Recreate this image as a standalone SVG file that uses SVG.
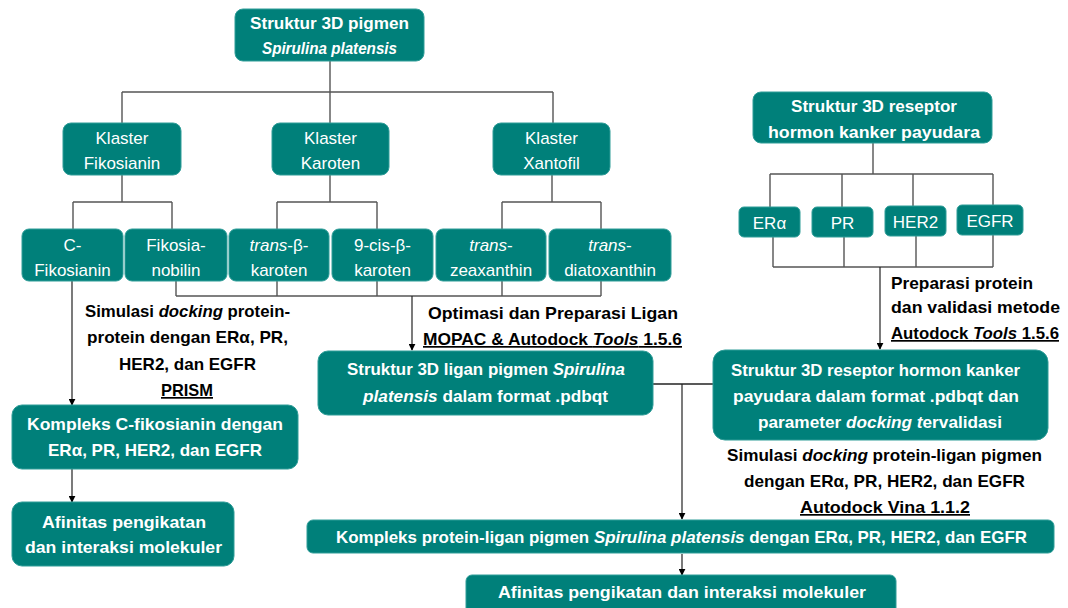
<svg xmlns="http://www.w3.org/2000/svg" width="1068" height="608" viewBox="0 0 1068 608">
<defs>
<marker id="arr" viewBox="0 0 10 10" refX="9" refY="5" markerWidth="7" markerHeight="7" orient="auto" markerUnits="userSpaceOnUse">
<path d="M0,0 L10,5 L0,10 z" fill="#000"/>
</marker>
</defs>
<style>
.box{fill:#00807A;stroke:#2f9d98;stroke-width:1}
.t{font-family:"Liberation Sans",Arial,sans-serif;fill:#fff;text-anchor:middle}
.r{font-size:17px}
.b{font-size:17px;font-weight:bold}
.lab{font-family:"Liberation Sans",Arial,sans-serif;font-size:17px;font-weight:bold;fill:#000}
.c{text-anchor:middle}
.u{text-decoration:underline}
.ln{fill:none;stroke:#555;stroke-width:1.4}
.ar{fill:none;stroke:#222;stroke-width:1.2;marker-end:url(#arr)}
</style>
<rect width="1068" height="608" fill="#fff"/>
<g id="connectors">
<path class="ln" d="M330,61 V92 M122,92 H553 M122,92 V123 M330,92 V123 M553,92 V123"/>
<path class="ln" d="M122,175 V202 M73,202 H172 M73,202 V229 M172,202 V229"/>
<path class="ln" d="M330,175 V202 M277,202 H377 M277,202 V229 M377,202 V229"/>
<path class="ln" d="M552,175 V202 M502,202 H601 M502,202 V229 M601,202 V229"/>
<path class="ln" d="M176,281 V296 M277,281 V296 M377,281 V296 M502,281 V296 M601,281 V296 M176,296 H601"/>
<path class="ar" d="M412,296 V350"/>
<path class="ar" d="M72,281 V405"/>
<path class="ar" d="M72,469 V502"/>
<path class="ln" d="M873,143 V174 M770,174 H993 M770,174 V207 M842,174 V207 M913,174 V206 M993,174 V205"/>
<path class="ln" d="M773,237 V267 M844,237 V267 M916,236 V267 M993,235 V267 M773,267 H993"/>
<path class="ar" d="M880,267 V349"/>
<path class="ln" d="M653,384 H713" style="stroke:#222"/>
<path class="ar" d="M682,384 V519"/>
<path class="ar" d="M682,554 V575"/>
</g>
<g id="n-top"><rect class="box" x="235" y="9" width="189" height="52" rx="8"/>
<text class="t b" x="329.5" y="29" textLength="159" lengthAdjust="spacingAndGlyphs">Struktur 3D pigmen</text>
<text class="t b" x="329.5" y="54" font-style="italic" textLength="135" lengthAdjust="spacingAndGlyphs">Spirulina platensis</text></g>
<g id="n-fiko"><rect class="box" x="63" y="123" width="118" height="52" rx="8"/>
<text class="t r" x="122" y="144">Klaster</text><text class="t r" x="122" y="169">Fikosianin</text></g>
<g id="n-karo"><rect class="box" x="272" y="123" width="117" height="52" rx="8"/>
<text class="t r" x="330.5" y="144">Klaster</text><text class="t r" x="330.5" y="169">Karoten</text></g>
<g id="n-xant"><rect class="box" x="493" y="123" width="117" height="52" rx="8"/>
<text class="t r" x="551.5" y="144">Klaster</text><text class="t r" x="551.5" y="169">Xantofil</text></g>
<g id="n-cfiko"><rect class="box" x="22" y="229" width="101" height="52" rx="7"/>
<text class="t r" x="72.5" y="251">C-</text><text class="t r" x="72.5" y="276">Fikosianin</text></g>
<g id="n-fikonob"><rect class="box" x="125" y="229" width="102" height="52" rx="7"/>
<text class="t r" x="176" y="251">Fikosia-</text><text class="t r" x="176" y="276">nobilin</text></g>
<g id="n-transb"><rect class="box" x="229" y="229" width="100" height="52" rx="7"/>
<text class="t r" x="279" y="251"><tspan font-style="italic">trans</tspan>-β-</text><text class="t r" x="279" y="276">karoten</text></g>
<g id="n-9cis"><rect class="box" x="332" y="229" width="101" height="52" rx="7"/>
<text class="t r" x="382.5" y="251">9-cis-β-</text><text class="t r" x="382.5" y="276">karoten</text></g>
<g id="n-zea"><rect class="box" x="436" y="229" width="110" height="52" rx="7"/>
<text class="t r" x="491" y="251"><tspan font-style="italic">trans</tspan>-</text><text class="t r" x="491" y="276">zeaxanthin</text></g>
<g id="n-diato"><rect class="box" x="549" y="229" width="122" height="52" rx="7"/>
<text class="t r" x="610" y="251"><tspan font-style="italic">trans</tspan>-</text><text class="t r" x="610" y="276">diatoxanthin</text></g>
<g id="n-reseptor"><rect class="box" x="753" y="92" width="239" height="51" rx="8"/>
<text class="t b" x="874" y="112" textLength="166" lengthAdjust="spacingAndGlyphs">Struktur 3D reseptor</text>
<text class="t b" x="874" y="138" textLength="212" lengthAdjust="spacingAndGlyphs">hormon kanker payudara</text></g>
<g id="n-era"><rect class="box" x="739" y="207" width="61" height="30" rx="5"/><text class="t r" x="769.5" y="229">ERα</text></g>
<g id="n-pr"><rect class="box" x="812" y="207" width="61" height="30" rx="5"/><text class="t r" x="842.5" y="229">PR</text></g>
<g id="n-her2"><rect class="box" x="885" y="206" width="61" height="30" rx="5"/><text class="t r" x="915.5" y="228">HER2</text></g>
<g id="n-egfr"><rect class="box" x="957" y="205" width="66" height="30" rx="5"/><text class="t r" x="990" y="227">EGFR</text></g>
<g id="n-ligan"><rect class="box" x="318" y="351" width="335" height="64" rx="10"/>
<text class="t b" x="486" y="375" textLength="278" lengthAdjust="spacingAndGlyphs">Struktur 3D ligan pigmen <tspan font-style="italic">Spirulina</tspan></text>
<text class="t b" x="485.5" y="402" textLength="245" lengthAdjust="spacingAndGlyphs"><tspan font-style="italic">platensis</tspan> dalam format .pdbqt</text></g>
<g id="n-resfmt"><rect class="box" x="713" y="350" width="335" height="90" rx="12"/>
<text class="t b" x="875.5" y="376" textLength="289" lengthAdjust="spacingAndGlyphs">Struktur 3D reseptor hormon kanker</text>
<text class="t b" x="876" y="402" textLength="286" lengthAdjust="spacingAndGlyphs">payudara dalam format .pdbqt dan</text>
<text class="t b" x="880" y="428" textLength="244" lengthAdjust="spacingAndGlyphs">parameter <tspan font-style="italic">docking t</tspan>ervalidasi</text></g>
<g id="n-kompc"><rect class="box" x="12" y="405" width="286" height="64" rx="10"/>
<text class="t b" x="155" y="430" textLength="256" lengthAdjust="spacingAndGlyphs">Kompleks C-fikosianin dengan</text>
<text class="t b" x="155" y="456" textLength="214" lengthAdjust="spacingAndGlyphs">ERα, PR, HER2, dan EGFR</text></g>
<g id="n-afin1"><rect class="box" x="12" y="502" width="222" height="64" rx="10"/>
<text class="t b" x="124" y="528" textLength="164" lengthAdjust="spacingAndGlyphs">Afinitas pengikatan</text>
<text class="t b" x="123.5" y="553" textLength="197" lengthAdjust="spacingAndGlyphs">dan interaksi molekuler</text></g>
<g id="n-kompl"><rect class="box" x="307" y="520" width="747" height="33" rx="6"/>
<text class="t b" x="681.5" y="543" textLength="691" lengthAdjust="spacingAndGlyphs">Kompleks protein-ligan pigmen <tspan font-style="italic">Spirulina platensis</tspan> dengan ERα, PR, HER2, dan EGFR</text></g>
<g id="n-afin2"><rect class="box" x="466" y="575" width="430" height="40" rx="6"/>
<text class="t b" x="682" y="598" textLength="368" lengthAdjust="spacingAndGlyphs">Afinitas pengikatan dan interaksi molekuler</text></g>
<g id="labels">
<text class="lab c" x="187.5" y="317" textLength="205" lengthAdjust="spacingAndGlyphs">Simulasi <tspan font-style="italic">docking</tspan> protein-</text>
<text class="lab c" x="187.5" y="343" textLength="201" lengthAdjust="spacingAndGlyphs">protein dengan ERα, PR,</text>
<text class="lab c" x="187.5" y="370" textLength="137" lengthAdjust="spacingAndGlyphs">HER2, dan EGFR</text>
<text class="lab c u" x="187" y="396" textLength="52" lengthAdjust="spacingAndGlyphs">PRISM</text>
<text class="lab c" x="553" y="319" textLength="250" lengthAdjust="spacingAndGlyphs">Optimasi dan Preparasi Ligan</text>
<text class="lab c u" x="552.5" y="345" textLength="259" lengthAdjust="spacingAndGlyphs">MOPAC &amp; Autodock <tspan font-style="italic">Tools</tspan> 1.5.6</text>
<text class="lab" x="891" y="289" textLength="142" lengthAdjust="spacingAndGlyphs">Preparasi protein</text>
<text class="lab" x="891" y="313" textLength="169" lengthAdjust="spacingAndGlyphs">dan validasi metode</text>
<text class="lab u" x="891" y="339" textLength="168" lengthAdjust="spacingAndGlyphs">Autodock <tspan font-style="italic">Tools</tspan> 1.5.6</text>
<text class="lab c" x="884.5" y="461" textLength="315" lengthAdjust="spacingAndGlyphs">Simulasi <tspan font-style="italic">docking</tspan> protein-ligan pigmen</text>
<text class="lab c" x="884.5" y="487" textLength="281" lengthAdjust="spacingAndGlyphs">dengan ERα, PR, HER2, dan EGFR</text>
<text class="lab c u" x="885" y="513" textLength="170" lengthAdjust="spacingAndGlyphs">Autodock Vina 1.1.2</text>
</g>
</svg>
